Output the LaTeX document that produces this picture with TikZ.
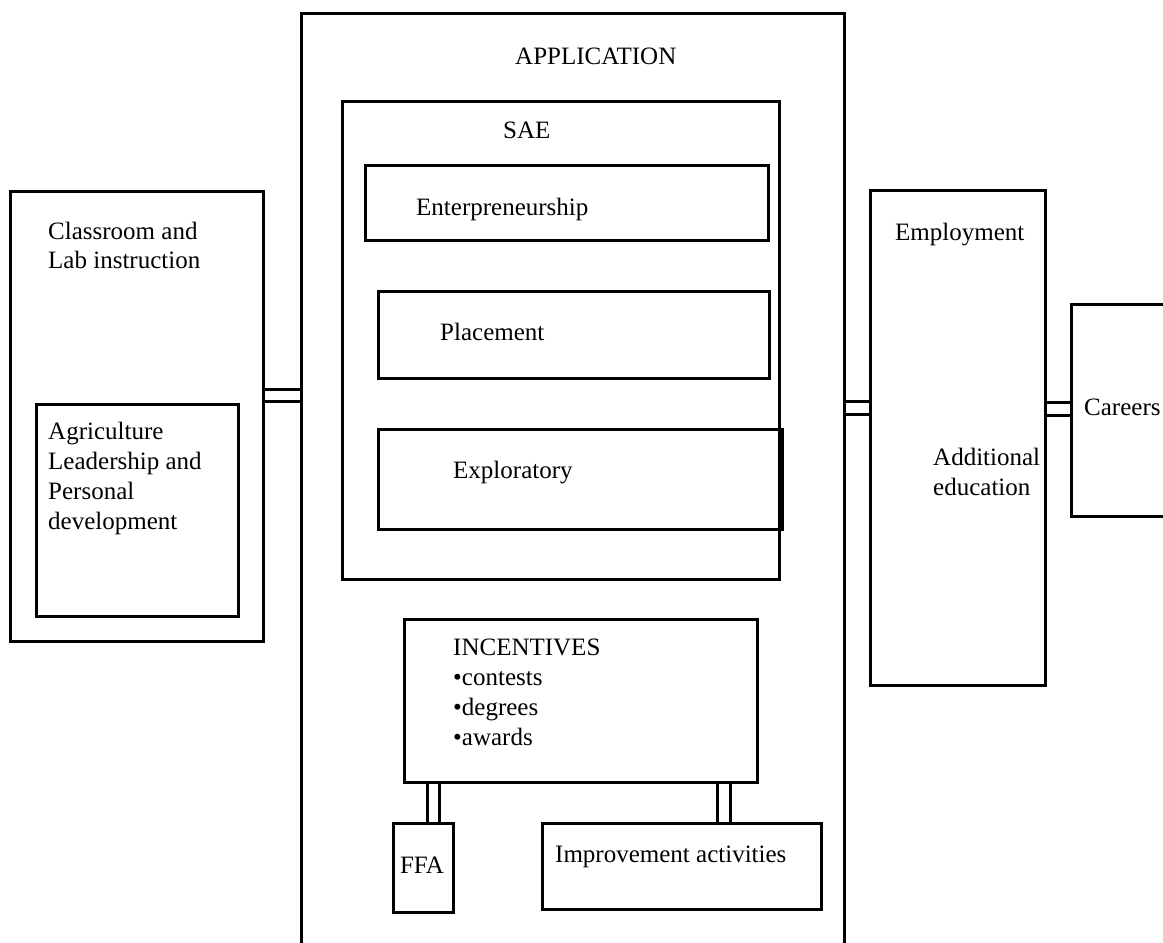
\documentclass[tikz,border=0pt]{standalone}
\usepackage{fontspec}
\setmainfont{Liberation Serif}
\usetikzlibrary{backgrounds}
\begin{document}
\begin{tikzpicture}[x=1pt,y=-1pt,
  box/.style={draw, line width=2.9pt, inner sep=0pt, anchor=north west},
  link/.style={line width=2.9pt, double distance=9.6pt},
  txt/.style={inner sep=0pt, anchor=base west, font=\fontsize{25}{30}\selectfont}]
\useasboundingbox (0,0) rectangle (1163,943);
\clip (0,0) rectangle (1163,943);

% outer columns
\node[box, minimum width=253pt, minimum height=450pt] (cls) at (9,190) {};
\node[box, minimum width=202pt, minimum height=212pt] (agr) at (35,403) {};
\node[box, minimum width=543pt, minimum height=960pt] (app) at (300,12) {};
\node[box, minimum width=175pt, minimum height=495pt] (emp) at (869,189) {};
\node[box, minimum width=120pt, minimum height=212pt] (car) at (1070,303) {};

% SAE block
\node[box, minimum width=437pt, minimum height=478pt] (sae) at (341,100) {};
\node[box, minimum width=403pt, minimum height=75pt] (ent) at (364,164) {};
\node[box, minimum width=391pt, minimum height=87pt] (plc) at (377,290) {};
\node[box, minimum width=404pt, minimum height=100pt] (exb) at (377,428) {};

% incentives and activities
\node[box, minimum width=353pt, minimum height=163pt] (inc) at (403,618) {};
\node[box, minimum width=60pt, minimum height=89pt] (ffa) at (392,822) {};
\node[box, minimum width=279pt, minimum height=86pt] (imp) at (541,822) {};

% double-line connectors
\begin{pgfonlayer}{background}
\draw[link] (cls.east |- 0,395.5) -- (app.west |- 0,395.5);
\draw[link] (app.east |- 0,408) -- (emp.west |- 0,408);
\draw[link] (emp.east |- 0,409) -- (car.west |- 0,409);
\draw[link] (inc.south -| 433.5,0) -- (ffa.north -| 433.5,0);
\draw[link] (inc.south -| 724,0) -- (imp.north -| 724,0);
\end{pgfonlayer}

% labels
\node[txt] (tapp) at (515,64) {APPLICATION};
\node[txt] (tsae) at (503,138) {SAE};
\node[txt] (tent) at (416,215) {Enterpreneurship};
\node[txt] (tplc) at (440,340) {Placement};
\node[txt] (texp) at (453,478) {Exploratory};

\node[txt] (tcls1) at (48,239) {Classroom and};
\node[txt] (tcls2) at (48,268) {Lab instruction};
\node[txt] (tagr1) at (48,439) {Agriculture};
\node[txt] (tagr2) at (48,469) {Leadership and};
\node[txt] (tagr3) at (48,499) {Personal};
\node[txt] (tagr4) at (48,529) {development};

\node[txt] (temp) at (895,240) {Employment};
\node[txt] (tadd1) at (933,465) {Additional};
\node[txt] (tadd2) at (933,495) {education};
\node[txt] (tcar) at (1084,415) {Careers};

\node[txt] (tinc1) at (453,655) {INCENTIVES};
\node[txt] (tinc2) at (453,685) {•contests};
\node[txt] (tinc3) at (453,715) {•degrees};
\node[txt] (tinc4) at (453,745) {•awards};

\node[txt, anchor=base] (tffa) at (422,873) {FFA};
\node[txt] (timp) at (555,862) {Improvement activities};
\end{tikzpicture}
\end{document}
